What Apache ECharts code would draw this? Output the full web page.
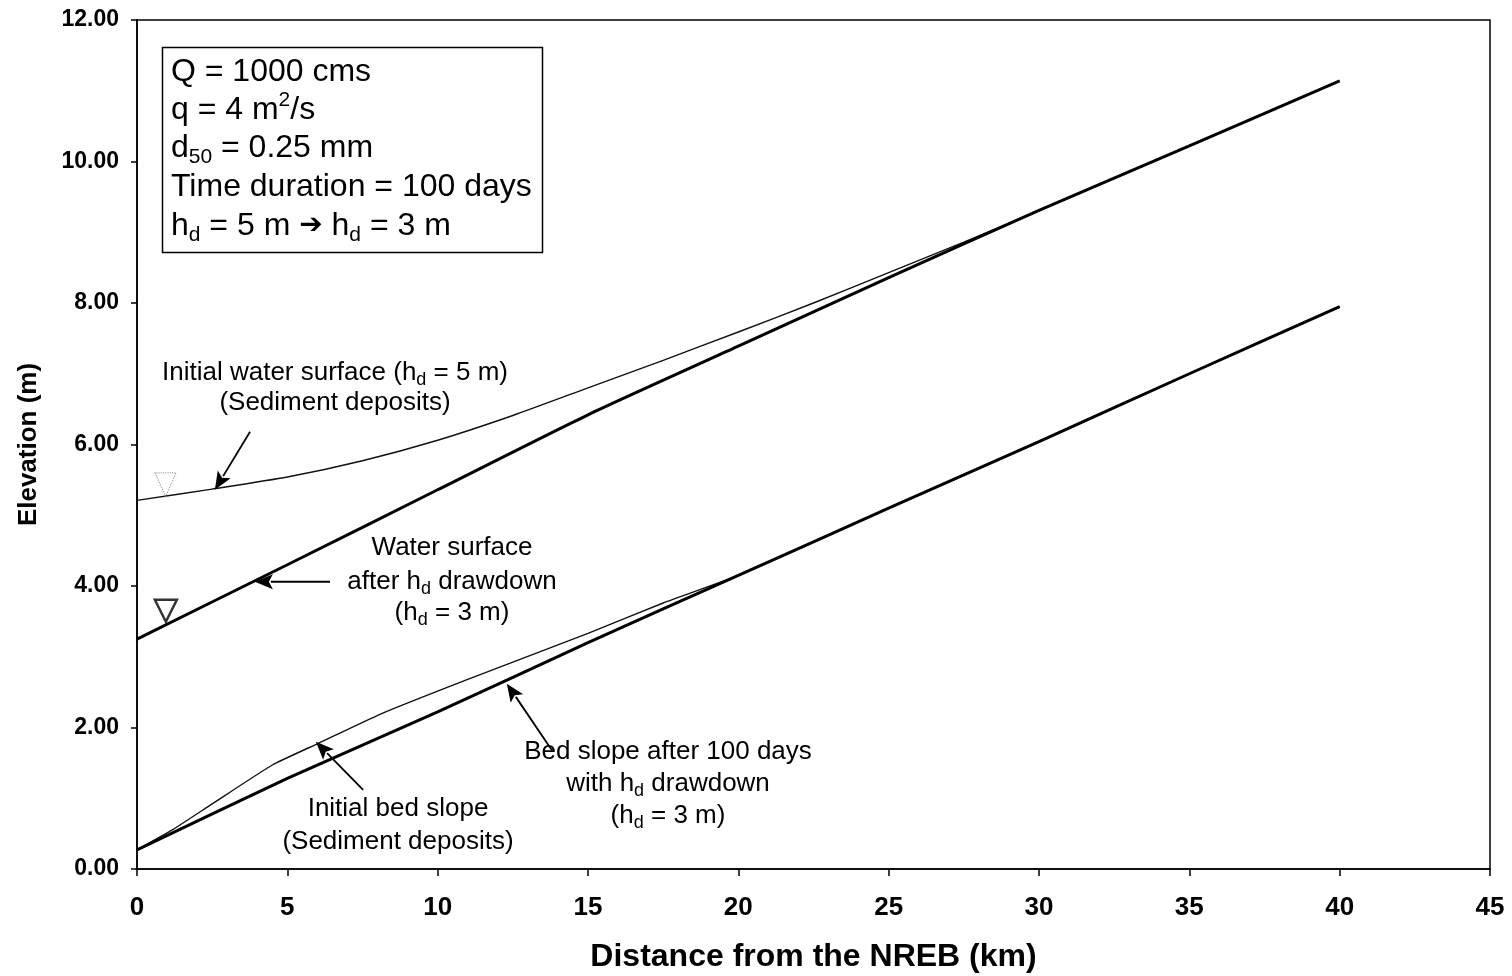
<!DOCTYPE html>
<html>
<head>
<meta charset="utf-8">
<script src="https://cdn.jsdelivr.net/npm/echarts@6/dist/echarts.min.js"></script>
<style>
html,body{margin:0;padding:0;background:#fff;}
#main{width:1512px;height:976px;}
</style>
</head>
<body>
<div id="main"></div>
<script>
// ---- data ----
const xTicks = [0, 5, 10, 15, 20, 25, 30, 35, 40, 45];
const yTicks = [0, 2, 4, 6, 8, 10, 12];

const initialWaterX = [0, 2.5, 5, 7.5, 10, 12.5, 15, 17.5, 20, 22.5, 25, 27.5, 30, 32.5, 35, 37.5, 40];
const initialWaterY = [5.21, 5.37, 5.54, 5.77, 6.06, 6.41, 6.80, 7.19, 7.59, 8.00, 8.43, 8.86, 9.31, 9.77, 10.22, 10.68, 11.14];

const finalWaterX = [0, 5, 10, 15, 20, 25, 30, 35, 40];
const finalWaterY = [3.25, 4.30, 5.36, 6.42, 7.39, 8.36, 9.31, 10.22, 11.14];

const initialBedX = [0, 1.2, 2.5, 4.5, 6, 8.1, 11, 15, 17.5, 20, 25, 30, 35, 40];
const initialBedY = [0.27, 0.56, 0.92, 1.47, 1.77, 2.19, 2.68, 3.33, 3.76, 4.15, 5.10, 6.04, 7.00, 7.95];

const finalBedX = [0, 5, 10, 15, 20, 25, 30, 35, 40];
const finalBedY = [0.27, 1.28, 2.22, 3.20, 4.15, 5.10, 6.04, 7.00, 7.95];

// water-surface markers (x, y)
const initialMarker = [[0.95, 5.43]];
const finalMarker = [[0.96, 3.65]];

// annotation arrows: [tailX, tailY, tipX, tipY] in data units
const arrows = [
  [3.76, 6.18, 2.59, 5.36],
  [6.42, 4.06, 3.92, 4.06],
  [13.80, 1.68, 12.30, 2.62],
  [7.52, 1.12, 5.95, 1.80]
];

const zip = (xs, ys) => xs.map((x, i) => [x, ys[i]]);

const FONT = '"Liberation Sans", Arial, sans-serif';
const chart = echarts.init(document.getElementById('main'));

const sub = {fontSize: 18, fontFamily: FONT, verticalAlign: 'bottom', lineHeight: 32, color: '#000'};
const norm = {fontSize: 26, fontFamily: FONT, lineHeight: 32, color: '#000'};
const bsub = {fontSize: 21, fontFamily: FONT, verticalAlign: 'bottom', lineHeight: 40, color: '#000'};
const bsup = {fontSize: 21, fontFamily: FONT, verticalAlign: 'top', lineHeight: 40, color: '#000'};
const bnorm = {fontSize: 32, fontFamily: FONT, lineHeight: 40, color: '#000'};

function annText(x, y, text) {
  return {
    type: 'text', x: x, y: y, z: 100,
    style: {
      text: text, x: 0, y: 0, align: 'center', verticalAlign: 'middle',
      rich: {n: norm, s: sub}
    }
  };
}

const option = {
  animation: false,
  backgroundColor: '#fff',
  grid: {left: 137, right: 22, top: 20, bottom: 107, show: true, borderColor: '#000', borderWidth: 1.5,
    containLabel: false, outerBoundsMode: 'none'},
  xAxis: {
    type: 'value', min: 0, max: 45, interval: 5,
    name: 'Distance from the NREB (km)', nameLocation: 'middle', nameGap: 72,
    nameTextStyle: {fontFamily: FONT, fontWeight: 'bold', fontSize: 32, color: '#000'},
    axisLine: {lineStyle: {color: '#000', width: 1.5}},
    axisTick: {show: true, inside: false, length: 7, lineStyle: {color: '#000', width: 1.5}},
    axisLabel: {fontFamily: FONT, fontWeight: 'bold', fontSize: 26, color: '#000', margin: 26,
      formatter: v => xTicks.includes(v) ? String(v) : ''},
    splitLine: {show: false}
  },
  yAxis: {
    type: 'value', min: 0, max: 12, interval: 2,
    name: 'Elevation (m)', nameLocation: 'middle', nameGap: 95, nameRotate: 90,
    nameTextStyle: {fontFamily: FONT, fontWeight: 'bold', fontSize: 26, color: '#000'},
    axisLine: {show: true, lineStyle: {color: '#000', width: 1.5}},
    axisTick: {show: true, inside: false, length: 6, lineStyle: {color: '#000', width: 1.5}},
    axisLabel: {fontFamily: FONT, fontWeight: 'bold', fontSize: 23, color: '#000', margin: 18,
      formatter: v => yTicks.includes(v) ? v.toFixed(2) : ''},
    splitLine: {show: false}
  },
  series: [
    {type: 'line', name: 'Initial water surface', data: zip(initialWaterX, initialWaterY), showSymbol: false, smooth: 0.2,
      lineStyle: {color: '#111', width: 1.4}, z: 3},
    {type: 'line', name: 'Water surface after drawdown', data: zip(finalWaterX, finalWaterY), showSymbol: false, smooth: 0.2,
      lineStyle: {color: '#000', width: 3}, z: 4},
    {type: 'line', name: 'Initial bed slope', data: zip(initialBedX, initialBedY), showSymbol: false, smooth: 0.15,
      lineStyle: {color: '#111', width: 1.4}, z: 3},
    {type: 'line', name: 'Bed slope after 100 days', data: zip(finalBedX, finalBedY), showSymbol: false, smooth: 0.2,
      lineStyle: {color: '#000', width: 3}, z: 4},
    {type: 'scatter', data: initialMarker, symbol: 'triangle', symbolRotate: 180, symbolSize: [21, 24],
      itemStyle: {color: 'rgba(0,0,0,0)', borderColor: '#888', borderWidth: 1.2, borderType: 'dotted'}, z: 5},
    {type: 'scatter', data: finalMarker, symbol: 'triangle', symbolRotate: 180, symbolSize: [22, 22],
      itemStyle: {color: 'rgba(0,0,0,0)', borderColor: '#000', borderWidth: 2.5}, z: 5}
  ]
};
chart.setOption(option);

function buildGraphics() {
  const g = [];
  // info box
  g.push({type: 'rect', shape: {x: 162.5, y: 47.5, width: 380, height: 205},
    style: {fill: '#fff', stroke: '#000', lineWidth: 1.5}, z: 90});
  const boxLines = [
    '{n|Q = 1000 cms}',
    '{n|q = 4 m}{p|2}{n|/s}',
    '{n|d}{s|50}{n| = 0.25 mm}',
    '{n|Time duration = 100 days}',
    '{n|h}{s|d}{n| = 5 m }{a|\u2794}{n| h}{s|d}{n| = 3 m}'
  ];
  const boxY = [72, 110, 148, 187, 226];
  boxLines.forEach((t, i) => {
    g.push({type: 'text', x: 171, y: boxY[i], z: 100,
      style: {text: t, x: 0, y: 0, align: 'left', verticalAlign: 'middle',
        rich: {n: bnorm, s: bsub, p: bsup,
          a: {fontSize: 28, fontFamily: '"DejaVu Sans", sans-serif', fontWeight: 'bold', lineHeight: 40, color: '#000'}}}});
  });
  // annotations
  g.push(annText(335, 373, '{n|Initial water surface (h}{s|d}{n| = 5 m)}'));
  g.push(annText(335, 403, '{n|(Sediment deposits)}'));
  g.push(annText(452, 548, '{n|Water surface}'));
  g.push(annText(452, 582, '{n|after h}{s|d}{n| drawdown}'));
  g.push(annText(452, 613, '{n|(h}{s|d}{n| = 3 m)}'));
  g.push(annText(668, 752, '{n|Bed slope after 100 days}'));
  g.push(annText(668, 784, '{n|with h}{s|d}{n| drawdown}'));
  g.push(annText(668, 816, '{n|(h}{s|d}{n| = 3 m)}'));
  g.push(annText(398, 809, '{n|Initial bed slope}'));
  g.push(annText(398, 842, '{n|(Sediment deposits)}'));
  // arrows
  arrows.forEach(a => {
    const p0 = chart.convertToPixel({gridIndex: 0}, [a[0], a[1]]);
    const p1 = chart.convertToPixel({gridIndex: 0}, [a[2], a[3]]);
    const dx = p1[0] - p0[0], dy = p1[1] - p0[1];
    const L = Math.sqrt(dx * dx + dy * dy);
    const ux = dx / L, uy = dy / L;
    const hl = 18, hw = 7.5;
    const bx = p1[0] - ux * hl, by = p1[1] - uy * hl;
    g.push({type: 'line', shape: {x1: p0[0], y1: p0[1], x2: bx + ux * 2, y2: by + uy * 2},
      style: {stroke: '#000', lineWidth: 1.8}, z: 95});
    g.push({type: 'polygon', shape: {points: [[p1[0], p1[1]], [bx - uy * hw, by + ux * hw], [bx + ux * 4, by + uy * 4], [bx + uy * hw, by - ux * hw]]},
      style: {fill: '#000'}, z: 95});
  });
  return g;
}
chart.setOption({graphic: buildGraphics()});
</script>
</body>
</html>
